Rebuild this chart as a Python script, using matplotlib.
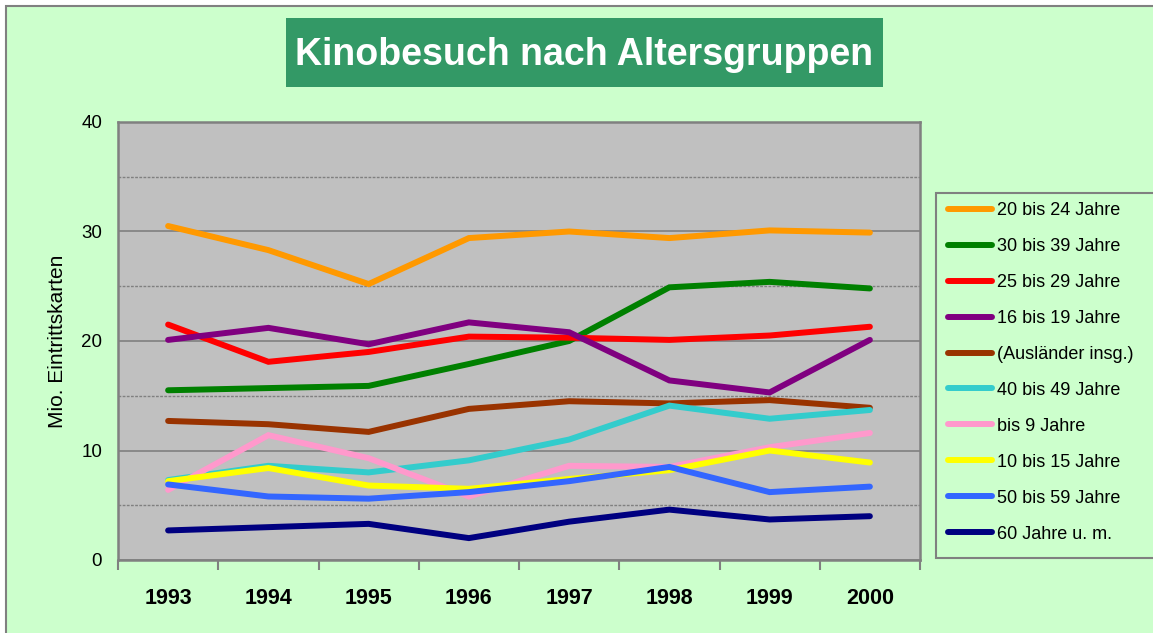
import matplotlib.pyplot as plt
from matplotlib.patches import Rectangle
from matplotlib.ticker import MultipleLocator, FixedLocator

plt.rcParams['font.family'] = ['Liberation Sans', 'DejaVu Sans']

years = ['1993', '1994', '1995', '1996', '1997', '1998', '1999', '2000']

# Mio. Eintrittskarten je Altersgruppe
age_20_24 = [30.5, 28.3, 25.2, 29.4, 30.0, 29.4, 30.1, 29.9]
age_30_39 = [15.5, 15.7, 15.9, 17.9, 20.0, 24.9, 25.4, 24.8]
age_25_29 = [21.5, 18.1, 19.0, 20.4, 20.3, 20.1, 20.5, 21.3]
age_16_19 = [20.1, 21.2, 19.7, 21.7, 20.8, 16.4, 15.3, 20.1]
auslaender = [12.7, 12.4, 11.7, 13.8, 14.5, 14.3, 14.6, 13.9]
age_40_49 = [7.3, 8.6, 8.0, 9.1, 11.0, 14.1, 12.9, 13.7]
age_bis_9 = [6.4, 11.4, 9.3, 5.8, 8.6, 8.5, 10.3, 11.6]
age_10_15 = [7.2, 8.4, 6.8, 6.5, 7.4, 8.2, 10.0, 8.9]
age_50_59 = [6.9, 5.8, 5.6, 6.2, 7.2, 8.5, 6.2, 6.7]
age_60_plus = [2.7, 3.0, 3.3, 2.0, 3.5, 4.6, 3.7, 4.0]

series = [
    ('20 bis 24 Jahre', age_20_24, '#FF9900'),
    ('30 bis 39 Jahre', age_30_39, '#008000'),
    ('25 bis 29 Jahre', age_25_29, '#FF0000'),
    ('16 bis 19 Jahre', age_16_19, '#800080'),
    ('(Ausländer insg.)', auslaender, '#993300'),
    ('40 bis 49 Jahre', age_40_49, '#33CCCC'),
    ('bis 9 Jahre', age_bis_9, '#FF99CC'),
    ('10 bis 15 Jahre', age_10_15, '#FFFF00'),
    ('50 bis 59 Jahre', age_50_59, '#3366FF'),
    ('60 Jahre u. m.', age_60_plus, '#000080'),
]

W, H = 1153, 633
fig = plt.figure(figsize=(W / 100, H / 100), dpi=100, facecolor='white')

# outer chart area
fig.patches.append(Rectangle((6 / W, -0.05), 1.1, 1.05 - 6 / H,
                             transform=fig.transFigure, facecolor='#CCFFCC',
                             edgecolor='#808080', linewidth=1.5, zorder=-10))

ax = fig.add_axes([118 / W, 1 - 560 / H, 802 / W, 438 / H])
ax.set_facecolor('#C0C0C0')

x = list(range(len(years)))
for i, (name, vals, col) in enumerate(series):
    ax.plot(x, vals, color=col, lw=4.3, label=name, solid_capstyle='round',
            solid_joinstyle='miter', zorder=3 + i)

ax.set_xlim(-0.5, len(years) - 0.5)
ax.set_ylim(0, 40)
ax.yaxis.set_major_locator(MultipleLocator(10))
ax.yaxis.set_minor_locator(MultipleLocator(5))
ax.grid(which='major', axis='y', color='#808080', lw=1.2, ls='-')
ax.grid(which='minor', axis='y', color='#808080', lw=1.0, ls=(0, (2, 1)))
ax.set_axisbelow(True)

ax.set_xticks(x)
ax.set_xticklabels(years, fontsize=15.5, fontweight='bold')
ax.xaxis.set_minor_locator(FixedLocator([i - 0.5 for i in range(len(years) + 1)]))
ax.tick_params(axis='x', which='major', length=0, pad=20)
ax.tick_params(axis='x', which='minor', length=7, width=1.5, color='#808080')
ax.tick_params(axis='y', which='both', length=0, pad=11.5, labelsize=13.5)

for s in ax.spines.values():
    s.set_color('#808080')
    s.set_linewidth(1.8)

ax.set_ylabel('Mio. Eintrittskarten', fontsize=15)
ax.yaxis.set_label_coords(-0.064, 0.5)

# title box
tx0, tx1, ty0, ty1 = 286, 883, 18, 87
fig.patches.append(Rectangle((tx0 / W, 1 - ty1 / H), (tx1 - tx0) / W, (ty1 - ty0) / H,
                             transform=fig.transFigure, facecolor='#339966',
                             edgecolor='none', zorder=1))
fig.text((tx0 + tx1) / 2 / W, 1 - 55 / H, 'Kinobesuch nach Altersgruppen',
         ha='center', va='center', color='white', fontsize=27, fontweight='bold')

# legend frame drawn separately so its size matches
fig.patches.append(Rectangle((936 / W, 1 - 558 / H), 0.3, (558 - 193) / H,
                             transform=fig.transFigure, facecolor='#CCFFCC',
                             edgecolor='#808080', linewidth=1.5, zorder=-5))
leg = ax.legend(loc='upper left', bbox_to_anchor=(948 / W, 1 - 202 / H),
                bbox_transform=fig.transFigure, fontsize=13, frameon=False,
                handlelength=2.45, handletextpad=0.25, labelspacing=1.05,
                borderpad=0, borderaxespad=0)

fig.savefig('out.png', dpi=100, facecolor=fig.get_facecolor())
